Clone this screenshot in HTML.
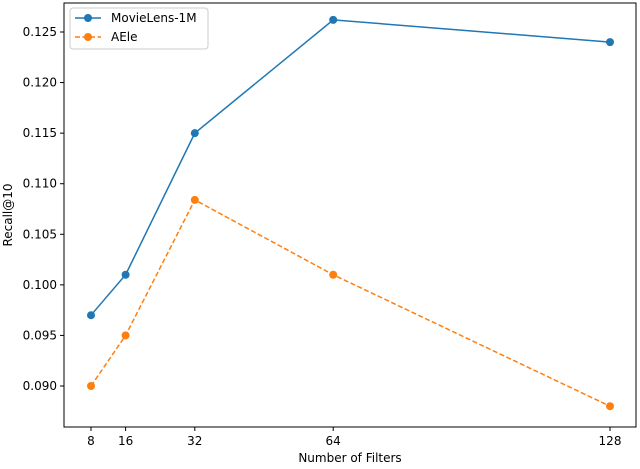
<!DOCTYPE html>
<html><head><meta charset="utf-8"><style>
body{margin:0;background:#fff;}
svg text{font-family:"DejaVu Sans","Liberation Sans",sans-serif;font-size:12px;fill:#000;}
</style></head><body>
<svg id="chart" width="640" height="464">
<rect x="64" y="3" width="572" height="424" fill="none" stroke="#000" stroke-width="1"/>
<g id="axes"></g>
<g id="series"></g>
<text x="350" y="462" text-anchor="middle">Number of Filters</text>
<text transform="translate(12,215) rotate(-90)" text-anchor="middle">Recall@10</text>
<g>
<rect x="70" y="8" width="138" height="41" rx="3" fill="#fff" stroke="#ccc"/>
<line x1="75" y1="18" x2="101" y2="18" stroke="#1f77b4" stroke-width="1.5"/>
<circle cx="88" cy="18" r="4" fill="#1f77b4"/>
<text x="111" y="22">MovieLens-1M</text>
<line x1="75" y1="37" x2="101" y2="37" stroke="#ff7f0e" stroke-width="1.5" stroke-dasharray="5,2.5"/>
<circle cx="88" cy="37" r="4" fill="#ff7f0e"/>
<text x="111" y="41">AEle</text>
</g>
</svg>
<script>
const categories=[8,16,32,64,128];
const movielens=[0.097,0.101,0.115,0.1262,0.124];
const aele=[0.090,0.095,0.1084,0.101,0.088];
const yTicks=[0.090,0.095,0.100,0.105,0.110,0.115,0.120,0.125];
const NS="http://www.w3.org/2000/svg";
const xs=v=>91+(v-8)*(610-91)/120;
const ys=v=>386-(v-0.090)*(386-32)/0.035;
const axes=document.getElementById('axes'),ser=document.getElementById('series');
function mk(t,a,p){const e=document.createElementNS(NS,t);for(const k in a)e.setAttribute(k,a[k]);p.appendChild(e);return e;}
categories.forEach(c=>{const x=xs(c);
 const l=mk('line',{x1:x,x2:x,y1:427,y2:431,stroke:'#000'},axes);
 
 
 const t=mk('text',{x:x,y:445,'text-anchor':'middle'},axes);t.textContent=c;
 
 });
yTicks.forEach(v=>{const y=ys(v);
 const l=mk('line',{x1:60,x2:64,y1:y,y2:y,stroke:'#000'},axes);
 
 
 const t=mk('text',{x:57,y:y+4,'text-anchor':'end'},axes);t.textContent=v.toFixed(3);
 
 });
function draw(vals,color,dash,name){
 const p=mk('polyline',{points:vals.map((v,i)=>xs(categories[i])+','+ys(v)).join(' '),fill:'none',stroke:color,'stroke-width':1.5,'stroke-dasharray':dash},ser);
 
 
 vals.forEach((v,i)=>{const c=mk('circle',{cx:xs(categories[i]),cy:ys(v),r:4,fill:color},ser);
  
  });
}
draw(movielens,'#1f77b4','none','movielens');
draw(aele,'#ff7f0e','5,2.5','aele');
</script>
</body></html>
